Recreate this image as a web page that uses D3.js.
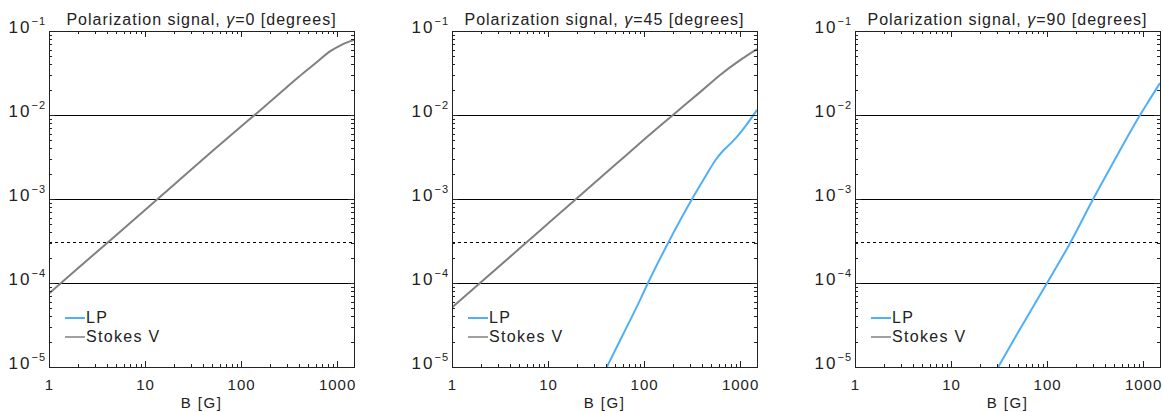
<!DOCTYPE html>
<html>
<head>
<meta charset="utf-8">
<script src="https://cdn.jsdelivr.net/npm/d3@7"></script>
<style>
  body { margin: 0; background: #fff; }
  text { font-family: "Liberation Sans", Arial, sans-serif; fill: #222; }
  .axis path, .axis line { stroke: #222; shape-rendering: crispEdges; }
  .level { shape-rendering: crispEdges; }
</style>
</head>
<body>
<div class="chart"></div>
<script>
// Polarization signal vs field strength, three inclinations

var gammas = [0, 45, 90];
var xTicks = [1, 10, 100, 1000];
var yExponents = [-1, -2, -3, -4, -5];
var solidLevels = [1e-4, 1e-3, 1e-2];
var dashedLevel = 3e-4;
var legendLabels = ["LP", "Stokes V"];

// Stokes V, gamma = 0
var v0B = [1, 2, 5, 10, 20, 50, 100, 150, 250, 400, 600, 850, 1100, 1500];
var v0 = [7.5e-5, 1.5e-4, 3.7e-4, 7.4e-4, 1.48e-3, 3.7e-3, 7.3e-3, 1.08e-2, 1.79e-2, 2.85e-2, 4.15e-2, 5.75e-2, 6.8e-2, 7.8e-2];

// gamma = 45
var v45B = [1, 2, 5, 10, 20, 50, 100, 200, 400, 620, 1000, 1500];
var v45 = [5.1e-5, 1.02e-4, 2.55e-4, 5.1e-4, 1.02e-3, 2.55e-3, 5.1e-3, 1.0e-2, 1.95e-2, 3.0e-2, 4.5e-2, 6.1e-2];
var lp45B = [41, 60, 91, 108, 178, 316, 453, 560, 665, 800, 940, 1200, 1500];
var lp45 = [1e-5, 2.4e-5, 6.3e-5, 9.6e-5, 3e-4, 1e-3, 2.0e-3, 2.95e-3, 3.75e-3, 4.6e-3, 5.6e-3, 8.0e-3, 1.15e-2];

// gamma = 90
var lp90B = [31, 50, 100, 174, 302, 500, 700, 910, 1200, 1500];
var lp90 = [1e-5, 2.6e-5, 1e-4, 3e-4, 1e-3, 2.85e-3, 5.7e-3, 9.6e-3, 1.6e-2, 2.4e-2];

var lpColor = "#4fb0f8";
var vColor = "#808080";

var svgWidth = 1163, svgHeight = 412;
var panelLeft = [49, 452, 855];
var plotTop = 31, width = 305, height = 336;

var svg = d3.select(".chart").append("svg")
  .attr("width", svgWidth)
  .attr("height", svgHeight);

var x = d3.scaleLog().domain([1, 1500]).range([0, width]);
var y = d3.scaleLog().domain([1e-5, 1e-1]).range([height, 0]);

// minor ticks 2..9 per decade
var xMinor = [];
[1, 10, 100, 1000].forEach(function(d) {
  for (var k = 2; k <= 9; k++) if (d * k <= 1500) xMinor.push(d * k);
});
var yMinor = [];
[1e-5, 1e-4, 1e-3, 1e-2].forEach(function(d) {
  for (var k = 2; k <= 9; k++) yMinor.push(d * k);
});

var line = d3.line()
  .x(function(d) { return x(d[0]); })
  .y(function(d) { return y(d[1]); })
  .curve(d3.curveMonotoneX);

function pairs(bs, vs) { return bs.map(function(b, i) { return [b, vs[i]]; }); }

var series = [
  { lp: null, v: pairs(v0B, v0) },
  { lp: pairs(lp45B, lp45), v: pairs(v45B, v45) },
  { lp: pairs(lp90B, lp90), v: null }
];

gammas.forEach(function(gamma, i) {
  var g = svg.append("g")
    .attr("transform", "translate(" + panelLeft[i] + "," + plotTop + ")");

  g.append("clipPath").attr("id", "clip" + i)
    .append("rect").attr("width", width).attr("height", height);

  // reference levels
  g.selectAll(".level")
    .data(solidLevels)
    .enter().append("line")
    .attr("class", "level")
    .attr("x1", 0).attr("x2", width)
    .attr("y1", function(d) { return y(d); })
    .attr("y2", function(d) { return y(d); })
    .attr("stroke", "#000")
    .attr("stroke-width", 1);

  g.append("line")
    .attr("class", "level")
    .attr("x1", 0).attr("x2", width)
    .attr("y1", y(dashedLevel)).attr("y2", y(dashedLevel))
    .attr("stroke", "#000")
    .attr("stroke-dasharray", "3,3");

  // curves
  var curves = g.append("g").attr("clip-path", "url(#clip" + i + ")");
  if (series[i].v) {
    curves.append("path")
      .attr("d", line(series[i].v))
      .attr("fill", "none")
      .attr("stroke", vColor)
      .attr("stroke-width", 2);
  }
  if (series[i].lp) {
    curves.append("path")
      .attr("d", line(series[i].lp))
      .attr("fill", "none")
      .attr("stroke", lpColor)
      .attr("stroke-width", 2);
  }

  // axes: ticks pointing inward on all four sides
  g.append("g").attr("class", "axis")
    .attr("transform", "translate(0," + height + ")")
    .call(d3.axisBottom(x).tickValues(xTicks).tickSize(-6).tickPadding(12)
      .tickFormat(d3.format("d")))
    .call(function(a) {
      a.selectAll("text").style("font-size", "15px").style("letter-spacing", "1px")
        .attr("fill", "#222").attr("font-family", null);
    });
  g.append("g").attr("class", "axis")
    .attr("transform", "translate(0," + height + ")")
    .call(d3.axisBottom(x).tickValues(xMinor).tickSize(-3).tickFormat(""))
    .call(function(a) { a.select(".domain").remove(); });
  g.append("g").attr("class", "axis")
    .call(d3.axisTop(x).tickValues(xTicks).tickSize(-6).tickFormat(""));
  g.append("g").attr("class", "axis")
    .call(d3.axisTop(x).tickValues(xMinor).tickSize(-3).tickFormat(""))
    .call(function(a) { a.select(".domain").remove(); });

  var yMajor = yExponents.map(function(e) { return Math.pow(10, e); });
  g.append("g").attr("class", "axis")
    .call(d3.axisLeft(y).tickValues(yMajor).tickSize(-6).tickFormat(""));
  g.append("g").attr("class", "axis")
    .call(d3.axisLeft(y).tickValues(yMinor).tickSize(-3).tickFormat(""))
    .call(function(a) { a.select(".domain").remove(); });
  g.append("g").attr("class", "axis")
    .attr("transform", "translate(" + width + ",0)")
    .call(d3.axisRight(y).tickValues(yMajor).tickSize(-6).tickFormat(""));
  g.append("g").attr("class", "axis")
    .attr("transform", "translate(" + width + ",0)")
    .call(d3.axisRight(y).tickValues(yMinor).tickSize(-3).tickFormat(""))
    .call(function(a) { a.select(".domain").remove(); });

  // y labels 10^e
  yExponents.forEach(function(e) {
    var t = g.append("text")
      .attr("x", -3)
      .attr("y", y(Math.pow(10, e)) + 2)
      .attr("text-anchor", "end")
      .style("font-size", "17px");
    t.append("tspan").style("letter-spacing", "2px").text("10");
    t.append("tspan").attr("dy", -8).style("font-size", "11px").style("letter-spacing", "1px")
      .text("\u2212" + Math.abs(e));
  });

  // title
  var title = g.append("text")
    .attr("x", width / 2)
    .attr("y", -6)
    .attr("text-anchor", "middle")
    .style("font-size", "16px")
    .style("letter-spacing", "1px");
  title.append("tspan").text("Polarization signal, ");
  title.append("tspan").style("font-style", "italic").text("\u03b3");
  title.append("tspan").text("=" + gamma + " [degrees]");

  // x label
  g.append("text")
    .attr("x", width / 2)
    .attr("y", height + 41)
    .attr("text-anchor", "middle")
    .style("font-size", "15px")
    .style("letter-spacing", "1.5px")
    .text("B [G]");

  // legend
  var legend = g.append("g").attr("transform", "translate(16," + (height - 49) + ")");
  legendLabels.forEach(function(lab, j) {
    legend.append("line")
      .attr("x1", 0).attr("x2", 20)
      .attr("y1", j * 19).attr("y2", j * 19)
      .attr("stroke", j === 0 ? lpColor : vColor)
      .attr("stroke-width", j === 0 ? 2 : 1.5);
    legend.append("text")
      .attr("x", 21)
      .attr("y", j * 19 + 5)
      .style("font-size", "16px")
      .style("letter-spacing", "1.3px")
      .text(lab);
  });
});
</script>
</body>
</html>
